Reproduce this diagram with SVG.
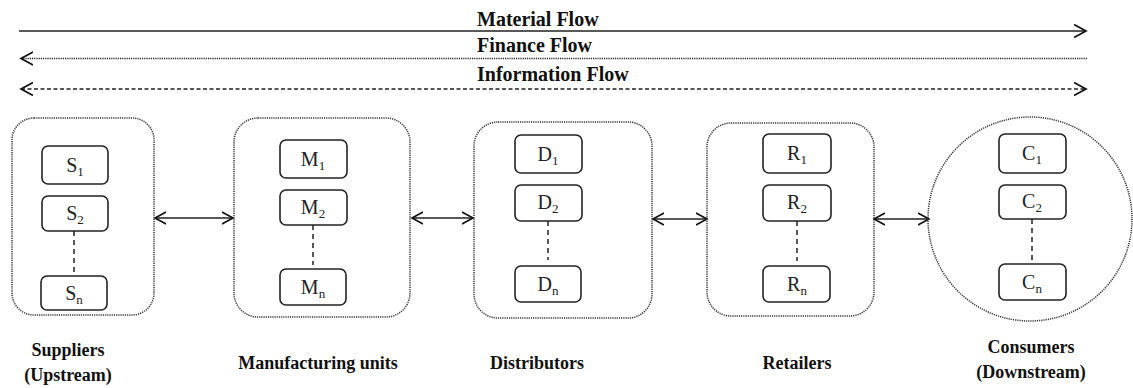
<svg xmlns="http://www.w3.org/2000/svg" width="1133" height="388" viewBox="0 0 1133 388">
<style>
.lbl{font-family:'Liberation Serif','DejaVu Serif',serif;font-weight:bold;font-size:20px;fill:#111;}
.blbl{font-family:'Liberation Serif','DejaVu Serif',serif;font-weight:bold;font-size:18px;fill:#111;text-anchor:middle;}
.it{font-family:'Liberation Serif','DejaVu Serif',serif;font-size:20px;fill:#222;text-anchor:middle;}
.sub{font-size:13px;}
.outer{fill:none;stroke:#333;stroke-width:1.5;stroke-dasharray:1.2 1;}
.inner{fill:#fff;stroke:#222;stroke-width:1.6;}
.vdash{stroke:#222;stroke-width:1.5;stroke-dasharray:5 4;fill:none;}
.conn{stroke:#222;stroke-width:1.6;fill:none;}
</style>
<defs>
<marker id="ah" markerUnits="userSpaceOnUse" markerWidth="14" markerHeight="16" refX="12" refY="7" orient="auto-start-reverse">
<path d="M0,0.5 L12,7 L0,13.5" fill="none" stroke="#111" stroke-width="1.7" stroke-dasharray="none"/>
</marker>
<marker id="ah2" markerUnits="userSpaceOnUse" markerWidth="14" markerHeight="16" refX="11" refY="7" orient="auto-start-reverse">
<path d="M0,1 L11,7 L0,13" fill="none" stroke="#111" stroke-width="1.6" stroke-dasharray="none"/>
</marker>
</defs>

<g id="flows">
<text class="lbl" x="477" y="26">Material Flow</text>
<text class="lbl" x="477" y="52">Finance Flow</text>
<text class="lbl" x="477" y="81">Information Flow</text>
</g>

<g id="connectors">
<line class="conn" x1="19" y1="31" x2="1086" y2="31" stroke-width="2" marker-end="url(#ah)"/>
<line class="conn" x1="21" y1="58.5" x2="1087" y2="58.5" stroke-width="1.6" stroke-dasharray="1.2 1" marker-start="url(#ah)"/>
<line class="conn" x1="21" y1="89" x2="1086" y2="89" stroke-width="2" stroke-dasharray="4 2.5" marker-start="url(#ah)" marker-end="url(#ah)"/>
<line class="conn" x1="155" y1="218" x2="233" y2="218" marker-start="url(#ah2)" marker-end="url(#ah2)"/>
<line class="conn" x1="412" y1="218" x2="473" y2="218" marker-start="url(#ah2)" marker-end="url(#ah2)"/>
<line class="conn" x1="653" y1="219" x2="707" y2="219" marker-start="url(#ah2)" marker-end="url(#ah2)"/>
<line class="conn" x1="874" y1="219" x2="929" y2="219" marker-start="url(#ah2)" marker-end="url(#ah2)"/>
</g>

<g id="suppliers">
<rect class="outer" x="12" y="118" width="142" height="197" rx="22"/>
<rect class="inner" x="42" y="146" width="66" height="38" rx="6"/>
<text class="it" x="75" y="172">S<tspan class="sub" dy="4">1</tspan></text>
<rect class="inner" x="42" y="196" width="66" height="35" rx="6"/>
<text class="it" x="75" y="220">S<tspan class="sub" dy="4">2</tspan></text>
<line class="vdash" x1="74" y1="231" x2="74" y2="272"/>
<rect class="inner" x="41" y="276" width="66" height="34" rx="6"/>
<text class="it" x="74" y="300">S<tspan class="sub" dy="4">n</tspan></text>
<text class="blbl" x="68" y="356">Suppliers</text>
<text class="blbl" x="68" y="381">(Upstream)</text>
</g>

<g id="manufacturing">
<rect class="outer" x="234" y="118" width="176" height="199" rx="24"/>
<rect class="inner" x="280" y="140" width="67" height="38" rx="6"/>
<text class="it" x="313" y="166">M<tspan class="sub" dy="4">1</tspan></text>
<rect class="inner" x="280" y="190" width="67" height="35" rx="6"/>
<text class="it" x="313" y="214">M<tspan class="sub" dy="4">2</tspan></text>
<line class="vdash" x1="313" y1="225" x2="313" y2="265"/>
<rect class="inner" x="280" y="269" width="66" height="36" rx="6"/>
<text class="it" x="313" y="294">M<tspan class="sub" dy="4">n</tspan></text>
<text class="blbl" x="318" y="369">Manufacturing units</text>
</g>

<g id="distributors">
<rect class="outer" x="474" y="122" width="178" height="196" rx="24"/>
<rect class="inner" x="515" y="135" width="67" height="38" rx="6"/>
<text class="it" x="548" y="161">D<tspan class="sub" dy="4">1</tspan></text>
<rect class="inner" x="515" y="185" width="67" height="36" rx="6"/>
<text class="it" x="548" y="209">D<tspan class="sub" dy="4">2</tspan></text>
<line class="vdash" x1="548" y1="221" x2="548" y2="260"/>
<rect class="inner" x="515" y="266" width="66" height="36" rx="6"/>
<text class="it" x="548" y="291">D<tspan class="sub" dy="4">n</tspan></text>
<text class="blbl" x="537" y="369">Distributors</text>
</g>

<g id="retailers">
<rect class="outer" x="707" y="123" width="167" height="193" rx="24"/>
<rect class="inner" x="763" y="134" width="68" height="39" rx="6"/>
<text class="it" x="797" y="160">R<tspan class="sub" dy="4">1</tspan></text>
<rect class="inner" x="763" y="185" width="68" height="36" rx="6"/>
<text class="it" x="797" y="209">R<tspan class="sub" dy="4">2</tspan></text>
<line class="vdash" x1="797" y1="221" x2="797" y2="261"/>
<rect class="inner" x="763" y="266" width="67" height="36" rx="6"/>
<text class="it" x="797" y="291">R<tspan class="sub" dy="4">n</tspan></text>
<text class="blbl" x="797" y="369">Retailers</text>
</g>

<g id="consumers">
<circle class="outer" cx="1030" cy="219" r="102"/>
<rect class="inner" x="999" y="134" width="67" height="39" rx="6"/>
<text class="it" x="1032" y="160">C<tspan class="sub" dy="4">1</tspan></text>
<rect class="inner" x="999" y="185" width="67" height="34" rx="6"/>
<text class="it" x="1032" y="208">C<tspan class="sub" dy="4">2</tspan></text>
<line class="vdash" x1="1032" y1="219" x2="1032" y2="260"/>
<rect class="inner" x="999" y="264" width="67" height="36" rx="6"/>
<text class="it" x="1032" y="289">C<tspan class="sub" dy="4">n</tspan></text>
<text class="blbl" x="1031" y="353">Consumers</text>
<text class="blbl" x="1031" y="378">(Downstream)</text>
</g>
</svg>
